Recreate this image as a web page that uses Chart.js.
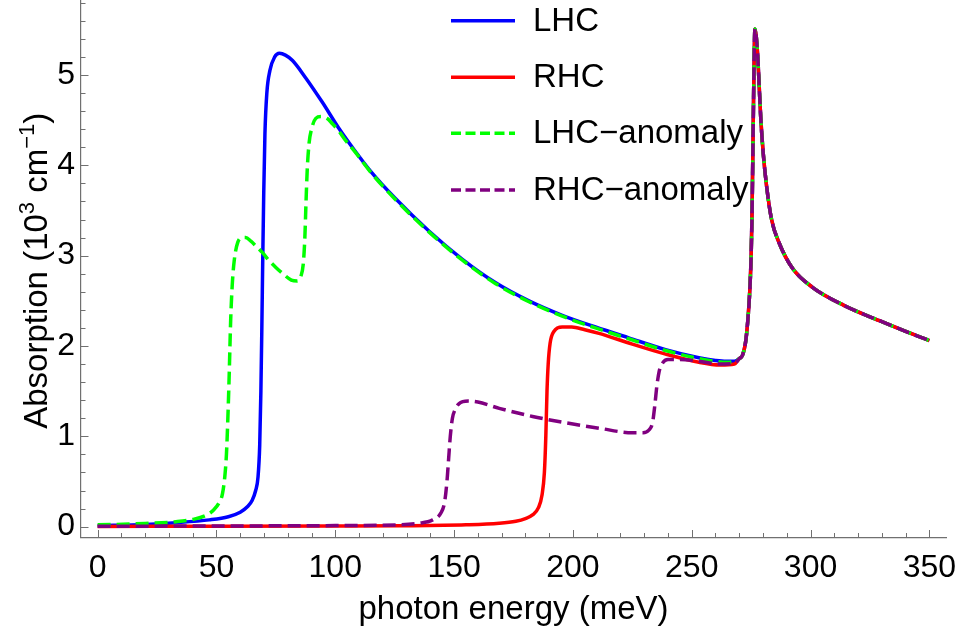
<!DOCTYPE html>
<html>
<head>
<meta charset="utf-8">
<script src="https://cdn.jsdelivr.net/npm/chart.js@4.4.0/dist/chart.umd.min.js"></script>
<style>
  html, body { margin: 0; padding: 0; background: #fff; }
  #wrap { width: 962px; height: 634px; }
</style>
</head>
<body>
<div id="wrap"><canvas id="chart" width="962" height="634"></canvas></div>
<script>
// axis ticks
const xTicks = [0, 50, 100, 150, 200, 250, 300, 350];
const yTicks = [0, 1, 2, 3, 4, 5];

// LHC (blue, solid) up to where the four curves join
const lhcX = [0, 20, 33, 47, 55, 60, 63, 65, 66.5, 67.5, 68.2, 68.7, 69.1, 69.5, 69.9, 70.4, 71.2, 72.5, 74.5, 76.5, 79, 82, 87.5, 94.5, 101.5, 108, 115, 125, 139.5, 153.5, 167.5, 181.5, 195.5, 209.5, 223.5, 239, 253, 260, 264.5, 268];
const lhcY = [0.01, 0.025, 0.044, 0.075, 0.11, 0.16, 0.22, 0.29, 0.40, 0.55, 0.9, 1.5, 2.2, 3.0, 3.7, 4.35, 4.8, 5.05, 5.2, 5.24, 5.22, 5.16, 4.97, 4.70, 4.41, 4.17, 3.93, 3.64, 3.27, 2.96, 2.70, 2.50, 2.34, 2.21, 2.09, 1.96, 1.87, 1.84, 1.83, 1.83];

// RHC (red, solid)
const rhcX = [0, 50, 100, 127, 155, 169, 176, 180, 183, 185.5, 187, 188, 188.6, 189.1, 189.6, 190.4, 192, 195.5, 199.5, 205, 211, 225, 239, 253, 262, 268];
const rhcY = [0.003, 0.004, 0.007, 0.01, 0.02, 0.037, 0.06, 0.09, 0.13, 0.21, 0.35, 0.6, 1.0, 1.5, 1.8, 2.03, 2.16, 2.21, 2.21, 2.18, 2.14, 2.02, 1.91, 1.82, 1.79, 1.80];

// LHC-anomaly (green, dashed)
const lhcaX = [0, 20, 33, 40, 46, 49, 51, 52.5, 53.5, 54.2, 54.8, 55.3, 56, 56.7, 57.5, 59, 61, 62.3, 64.5, 66.5, 69.5, 72, 75, 78, 81.5, 84, 85.5, 86.5, 87.2, 87.7, 88.2, 89, 90, 91.8, 94, 96.5, 98.8, 101.5, 104.5, 108, 115, 125, 139.5, 153.5, 167.5, 181.5, 195.5, 209.5, 223.5, 239, 253, 260, 264.5, 268];
const lhcaY = [0.02, 0.035, 0.055, 0.08, 0.13, 0.19, 0.26, 0.36, 0.55, 0.8, 1.2, 1.62, 2.3, 2.7, 2.95, 3.15, 3.2, 3.2, 3.16, 3.11, 3.03, 2.95, 2.87, 2.80, 2.73, 2.72, 2.77, 2.9, 3.2, 3.6, 3.95, 4.25, 4.4, 4.52, 4.54, 4.52, 4.46, 4.38, 4.27, 4.16, 3.92, 3.63, 3.26, 2.95, 2.69, 2.49, 2.33, 2.20, 2.08, 1.95, 1.86, 1.83, 1.82, 1.83];

// RHC-anomaly (purple, dashed)
const rhcaX = [0, 50, 100, 127, 135, 141, 144.4, 146, 147, 147.7, 148.4, 149.3, 150.5, 152, 156, 160, 169, 183, 197, 211, 225, 229.5, 232, 233.5, 234.5, 235.3, 236.3, 237.7, 240, 245, 253, 262, 268];
const rhcaY = [0.005, 0.007, 0.012, 0.02, 0.037, 0.075, 0.15, 0.27, 0.5, 0.75, 1.0, 1.2, 1.3, 1.36, 1.39, 1.38, 1.31, 1.22, 1.15, 1.09, 1.04, 1.04, 1.07, 1.15, 1.35, 1.55, 1.72, 1.81, 1.85, 1.85, 1.83, 1.80, 1.81];

// shared part: the sharp peak near 277 meV and the tail
const peakX = [270, 271.4, 272.8, 273.8, 274.5, 275.0, 275.4, 275.9, 276.3, 276.6, 277.7, 278.4, 279.1, 280.1, 281.5, 283.6, 286.8, 292.4, 300.8, 314, 329, 343, 350];
const peakY = [1.86, 1.90, 2.07, 2.35, 2.65, 3.0, 3.5, 4.5, 5.24, 5.51, 5.24, 4.87, 4.50, 4.13, 3.77, 3.40, 3.14, 2.86, 2.65, 2.45, 2.28, 2.13, 2.06];

const FONT = "'Liberation Sans', Arial, sans-serif";
const AXIS_COLOR = '#707070';

function points(xs, ys) {
    const allX = xs.concat(peakX);
    const allY = ys.concat(peakY);
    return allX.map((x, i) => ({ x: x, y: allY[i] }));
}

// inward tick marks, Mathematica style
const tickMarks = {
    id: 'tickMarks',
    beforeDatasetsDraw(chart) {
        const { ctx, chartArea, scales: { x, y } } = chart;
        ctx.save();
        ctx.strokeStyle = AXIS_COLOR;
        ctx.lineWidth = 1;
        for (let v = 0; v <= 350; v += 10) {
            const px = Math.round(x.getPixelForValue(v)) + 0.5;
            const len = v % 50 === 0 ? 7.5 : 4.5;
            ctx.beginPath();
            ctx.moveTo(px, chartArea.bottom);
            ctx.lineTo(px, chartArea.bottom - len);
            ctx.stroke();
        }
        for (let i = 0; i <= 29; i++) {
            const v = i * 0.2;
            const py = Math.round(y.getPixelForValue(v)) + 0.5;
            const len = i % 5 === 0 ? 7.5 : 4.5;
            ctx.beginPath();
            ctx.moveTo(chartArea.left, py);
            ctx.lineTo(chartArea.left + len, py);
            ctx.stroke();
        }
        ctx.restore();
    }
};

// axis titles, y title with superscripts
const axisTitles = {
    id: 'axisTitles',
    afterDraw(chart) {
        const { ctx, chartArea } = chart;
        ctx.save();
        ctx.fillStyle = '#000';
        ctx.font = '33px ' + FONT;
        ctx.textAlign = 'center';
        ctx.textBaseline = 'alphabetic';
        ctx.fillText('photon energy (meV)', (chartArea.left + chartArea.right) / 2, 619);

        const big = '33px ' + FONT, small = '22px ' + FONT;
        const parts = [
            ['Absorption (10', big, 0],
            ['3', small, -13],
            [' cm', big, 0],
            ['\u22121', small, -13],
            [')', big, 0]
        ];
        let total = 0;
        parts.forEach(p => { ctx.font = p[1]; total += ctx.measureText(p[0]).width; });
        ctx.translate(47, (chartArea.top + chartArea.bottom) / 2 + 2);
        ctx.rotate(-Math.PI / 2);
        ctx.textAlign = 'left';
        let cx = -total / 2;
        parts.forEach(p => {
            ctx.font = p[1];
            ctx.fillText(p[0], cx, p[2]);
            cx += ctx.measureText(p[0]).width;
        });
        ctx.restore();
    }
};

// legend placed inside the plot, near the top
const plotLegend = {
    id: 'plotLegend',
    afterDatasetsDraw(chart) {
        const { ctx } = chart;
        const rows = [20.7, 77.3, 133.3, 190];
        ctx.save();
        chart.data.datasets.forEach((ds, i) => {
            const yy = rows[i];
            ctx.strokeStyle = ds.borderColor;
            ctx.lineWidth = 3.5;
            ctx.setLineDash(ds.borderDash ? [10, 4.5] : []);
            ctx.beginPath();
            ctx.moveTo(451, yy);
            ctx.lineTo(515, yy);
            ctx.stroke();
            ctx.setLineDash([]);
            ctx.fillStyle = '#000';
            ctx.font = '33px ' + FONT;
            ctx.textAlign = 'left';
            ctx.textBaseline = 'middle';
            ctx.fillText(ds.label, 533, yy + 1);
        });
        ctx.restore();
    }
};

new Chart(document.getElementById('chart'), {
    type: 'line',
    data: {
        datasets: [
            { label: 'LHC', data: points(lhcX, lhcY), borderColor: '#0000ff', order: 4 },
            { label: 'RHC', data: points(rhcX, rhcY), borderColor: '#ff0000', order: 3 },
            { label: 'LHC\u2212anomaly', data: points(lhcaX, lhcaY), borderColor: '#00ff00', borderDash: [13, 6], order: 2 },
            { label: 'RHC\u2212anomaly', data: points(rhcaX, rhcaY), borderColor: '#800080', borderDash: [13, 6], order: 1 }
        ]
    },
    options: {
        responsive: false,
        animation: false,
        devicePixelRatio: 1,
        layout: { padding: { left: 0, right: 16, top: 0, bottom: 0 } },
        elements: {
            point: { radius: 0 },
            line: { borderWidth: 3.5, cubicInterpolationMode: 'monotone', fill: false, borderCapStyle: 'butt' }
        },
        plugins: { legend: { display: false }, tooltip: { enabled: false } },
        scales: {
            x: {
                type: 'linear',
                min: -7,
                max: 357,
                afterBuildTicks: s => { s.ticks = xTicks.map(v => ({ value: v })); },
                afterFit: s => { s.height = 96.5; s.paddingLeft = 0; s.paddingRight = 0; },
                grid: { display: false, drawTicks: false },
                border: { display: true, color: AXIS_COLOR, width: 1.2 },
                ticks: { color: '#000', font: { family: FONT, size: 32 }, padding: 11, maxRotation: 0 }
            },
            y: {
                type: 'linear',
                min: -0.12,
                max: 5.83,
                afterBuildTicks: s => { s.ticks = yTicks.map(v => ({ value: v })); },
                afterFit: s => { s.width = 81; s.paddingTop = 0; s.paddingBottom = 0; },
                grid: { display: false, drawTicks: false },
                border: { display: true, color: AXIS_COLOR, width: 1.2 },
                ticks: { color: '#000', font: { family: FONT, size: 32 }, padding: 6 }
            }
        }
    },
    plugins: [tickMarks, axisTitles, plotLegend]
});
</script>
</body>
</html>
